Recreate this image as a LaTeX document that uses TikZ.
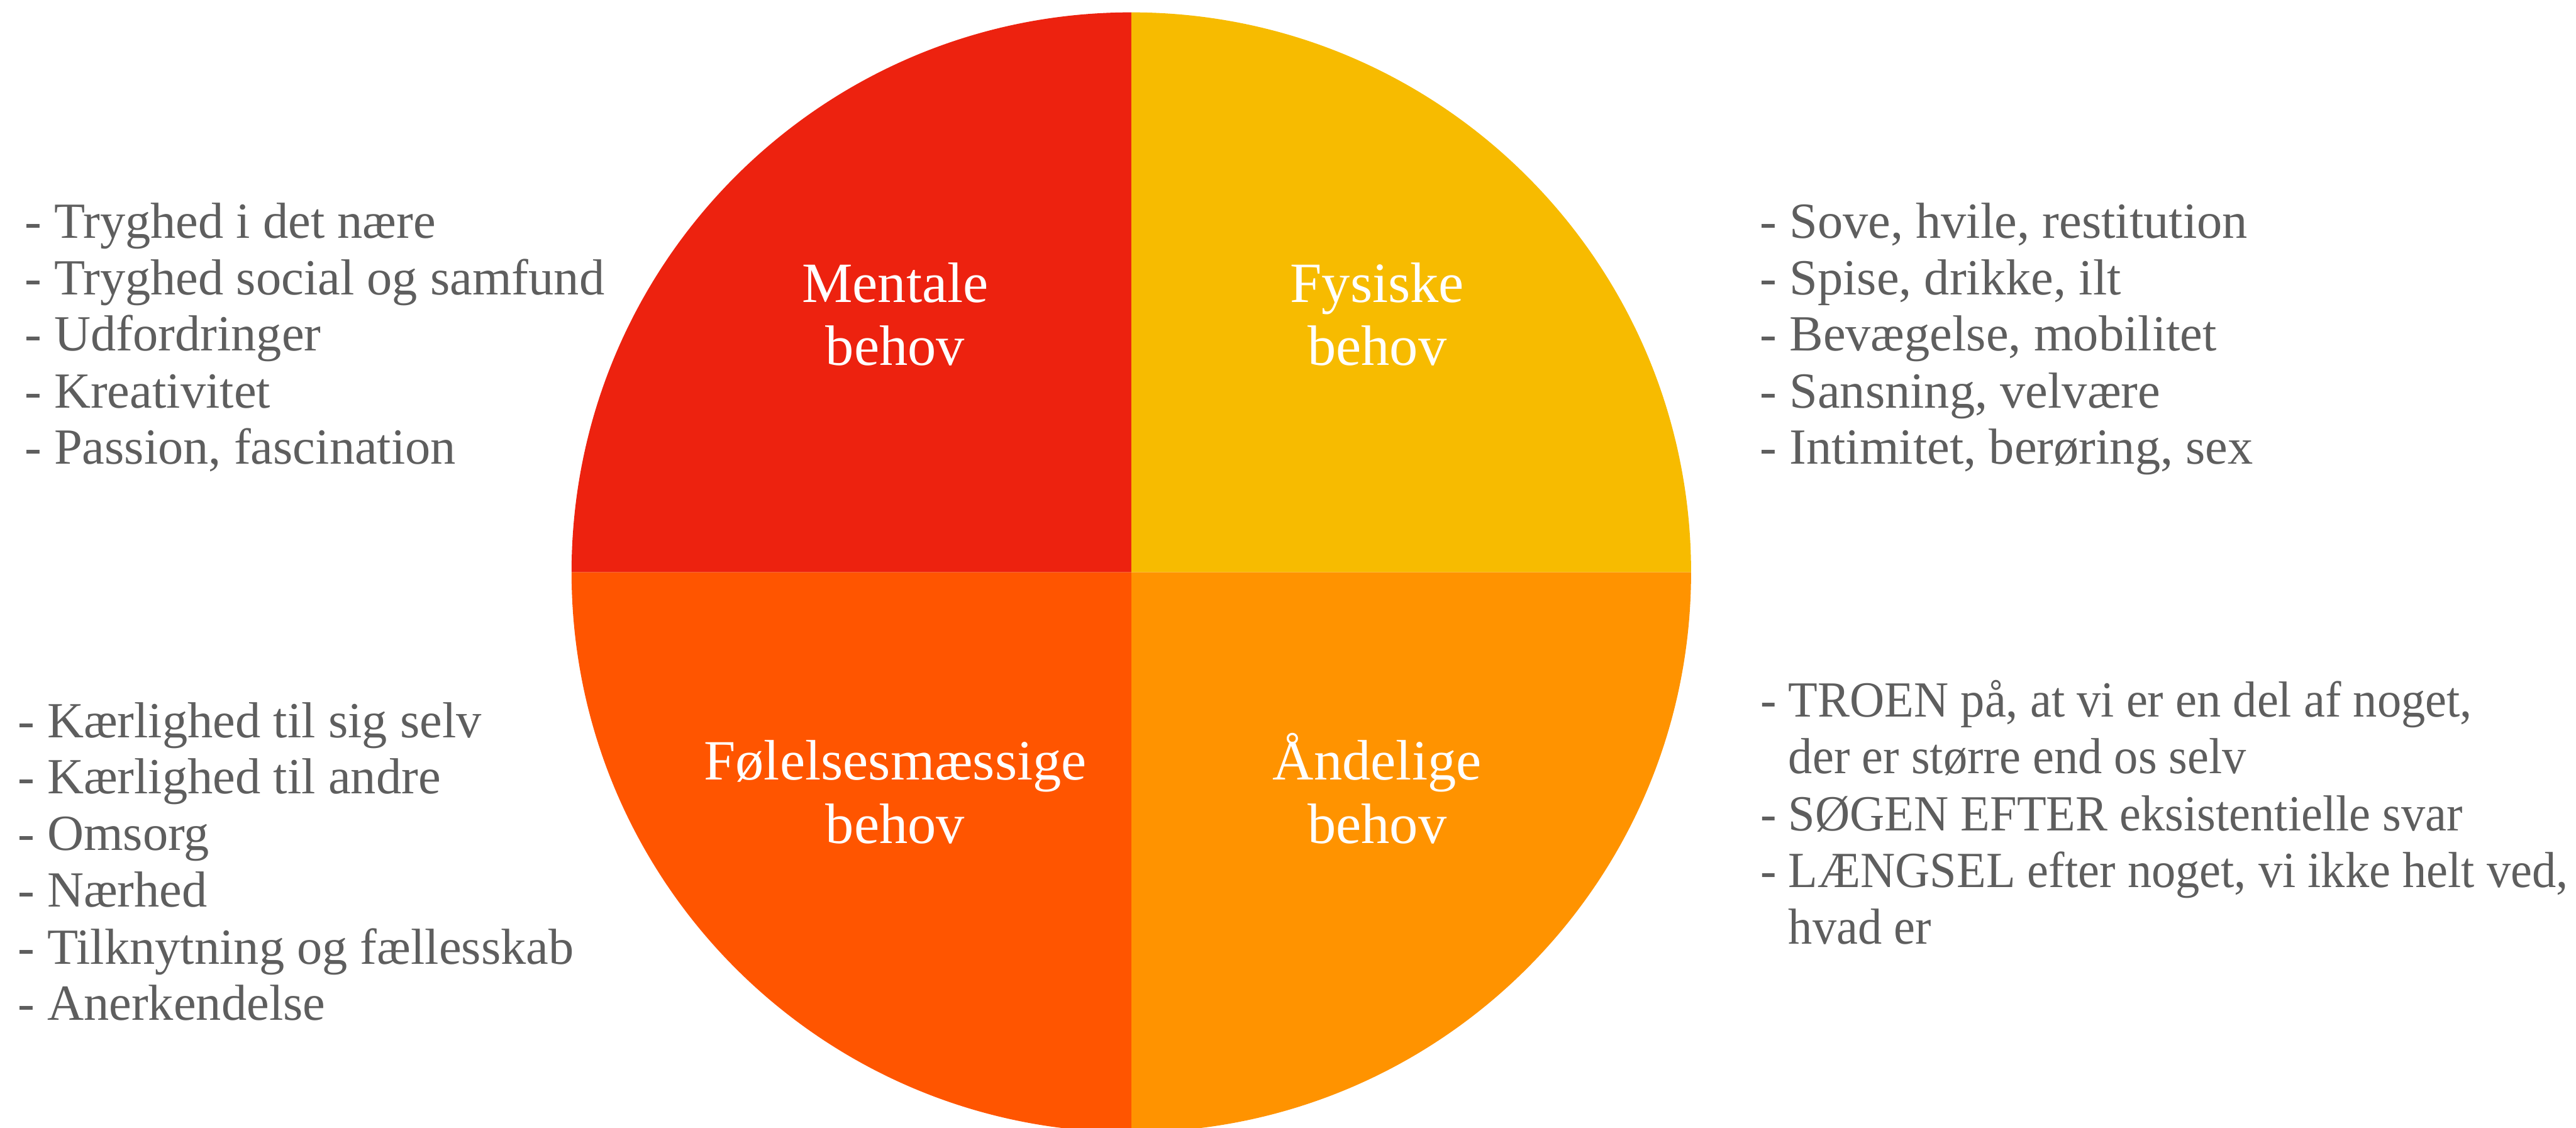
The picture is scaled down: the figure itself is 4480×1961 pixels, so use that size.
\documentclass[tikz,border=0pt]{standalone}
\usepackage{fontspec}
\setmainfont{Liberation Serif}
\newfontfamily\myNarrowSerif[FakeStretch=0.95]{Liberation Serif}
\definecolor{cMent}{RGB}{237,34,15}
\definecolor{cFys}{RGB}{247,187,0}
\definecolor{cFol}{RGB}{255,85,0}
\definecolor{cAand}{RGB}{255,147,0}
\definecolor{txtgray}{RGB}{94,94,94}
\newcommand\myLstFont{\fontsize{22}{24}\selectfont}
\newcommand\myLstNarrowFont{\myNarrowSerif\fontsize{22}{24}\selectfont}
\newcommand\myLblFont{\fontsize{24.75}{27}\selectfont}
\tikzset{
  listitem/.style={anchor=base west, inner sep=0pt, font=\myLstFont, text=txtgray},
  listitemnarrow/.style={listitem, font=\myLstNarrowFont},
  quadlabel/.style={anchor=base, inner sep=0pt, font=\myLblFont, text=white}
}
\begin{document}
\begin{tikzpicture}[x=0.25pt,y=0.25pt]
\useasboundingbox (0,0) rectangle (4480,1961);
\clip (0,0) rectangle (4480,1961);
\coordinate (c) at (1967.5,966);
% quadrants
\fill[cMent] (c) -- ++(180:973.5) arc[start angle=180,end angle=90,radius=973.5] -- cycle;
\fill[cFys]  (c) -- ++(90:973.5) arc[start angle=90,end angle=0,radius=973.5] -- cycle;
\fill[cAand] (c) -- ++(0:973.5) arc[start angle=0,end angle=-90,radius=973.5] -- cycle;
\fill[cFol]  (c) -- ++(-90:973.5) arc[start angle=-90,end angle=-180,radius=973.5] -- cycle;
% quadrant labels
\node[quadlabel] (m1) at (1557,1435) {Mentale};
\node[quadlabel] (m2) at (1557,1326) {behov};
\node[quadlabel] (f1) at (2395,1435) {Fysiske};
\node[quadlabel] (f2) at (2395,1326) {behov};
\node[quadlabel] (e1) at (1557,605) {Følelsesmæssige};
\node[quadlabel] (e2) at (1557,495) {behov};
\node[quadlabel] (a1) at (2395,605) {Åndelige};
\node[quadlabel] (a2) at (2395,495) {behov};
% left top list
\node[listitem] (lt1) at (42,1547) {- Tryghed i det nære};
\node[listitem] (lt2) at (42,1449) {- Tryghed social og samfund};
\node[listitem] (lt3) at (42,1351) {- Udfordringer};
\node[listitem] (lt4) at (42,1252) {- Kreativitet};
\node[listitem] (lt5) at (42,1154) {- Passion, fascination};
% right top list
\node[listitem] (rt1) at (3060,1547) {- Sove, hvile, restitution};
\node[listitem] (rt2) at (3060,1449) {- Spise, drikke, ilt};
\node[listitem] (rt3) at (3060,1351) {- Bevægelse, mobilitet};
\node[listitem] (rt4) at (3060,1252) {- Sansning, velvære};
\node[listitem] (rt5) at (3060,1154) {- Intimitet, berøring, sex};
% left bottom list
\node[listitem] (lb1) at (30,679) {- Kærlighed til sig selv};
\node[listitem] (lb2) at (30,581) {- Kærlighed til andre};
\node[listitem] (lb3) at (30,483) {- Omsorg};
\node[listitem] (lb4) at (30,384) {- Nærhed};
\node[listitem] (lb5) at (30,285) {- Tilknytning og fællesskab};
\node[listitem] (lb6) at (30,187) {- Anerkendelse};
% right bottom list
\node[listitemnarrow] (rb1) at (3061,715) {- TROEN på, at vi er en del af noget,};
\node[listitemnarrow] (rb2) at (3061,616) {\phantom{- }der er større end os selv};
\node[listitemnarrow] (rb3) at (3061,517) {- SØGEN EFTER eksistentielle svar};
\node[listitemnarrow] (rb4) at (3061,418) {- LÆNGSEL efter noget, vi ikke helt ved,};
\node[listitemnarrow] (rb5) at (3061,320) {\phantom{- }hvad er};
\end{tikzpicture}
\end{document}
